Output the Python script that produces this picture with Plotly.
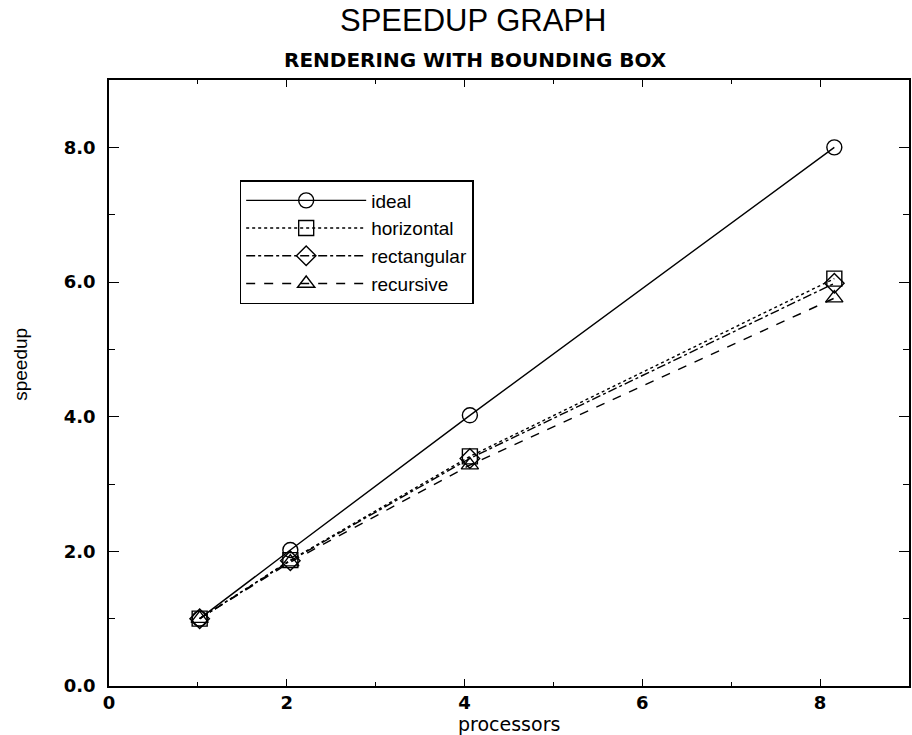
import plotly.graph_objects as go

# Data
processors = [1.02, 2.04, 4.06, 8.16]
ideal = [1.0, 2.02, 4.02, 8.0]
horizontal = [1.0, 1.87, 3.41, 6.05]
rectangular = [1.0, 1.86, 3.38, 5.98]
recursive = [1.0, 1.84, 3.28, 5.76]

x_ticks = [0, 2, 4, 6, 8]
x_tick_labels = ["0", "2", "4", "6", "8"]
y_ticks = [0, 2, 4, 6, 8]
y_tick_labels = ["0.0", "2.0", "4.0", "6.0", "8.0"]

series = [
    ("ideal", ideal, "solid", "circle-open"),
    ("horizontal", horizontal, "dot", "square-open"),
    ("rectangular", rectangular, "dashdot", "diamond-open"),
    ("recursive", recursive, "dash", "triangle-up-open"),
]

fig = go.Figure()
for name, vals, dash, sym in series:
    fig.add_trace(go.Scatter(
        x=processors, y=vals, name=name, mode="lines+markers",
        line=dict(color="black", width=1.4, dash=dash),
        marker=dict(symbol=sym, size=15, color="black",
                    line=dict(color="black", width=1.4)),
    ))

axis_common = dict(
    showgrid=False, zeroline=False, showline=True, linecolor="black",
    linewidth=1.5, mirror="allticks", ticks="inside", tickcolor="black",
    tickfont=dict(family="DejaVu Sans", size=18, color="black", weight="bold"),
)

fig.update_xaxes(
    range=[0, 9], tickvals=x_ticks, ticktext=x_tick_labels, ticklen=7,
    minor=dict(ticks="inside", dtick=1, ticklen=4, tickcolor="black"),
    **axis_common,
)
fig.update_yaxes(
    range=[0, 9], tickvals=y_ticks, ticktext=y_tick_labels, ticklen=10,
    minor=dict(ticks="inside", dtick=1, ticklen=6, tickcolor="black"),
    ticklabelstandoff=8,
    **axis_common,
)

fig.add_annotation(
    text="processors", xref="paper", yref="paper", x=0.5, y=0.0,
    yshift=-38, showarrow=False, xanchor="center", yanchor="middle",
    font=dict(family="DejaVu Sans", size=19, color="black"),
)
fig.add_annotation(
    text="speedup", xref="paper", yref="paper", x=-0.11, y=0.53,
    textangle=-90, showarrow=False, xanchor="center", yanchor="middle",
    font=dict(family="Liberation Sans Narrow, Liberation Sans", size=19, color="black"),
)
fig.add_annotation(
    text="SPEEDUP GRAPH", xref="paper", yref="paper", x=(474 - 109) / 802, y=1.0,
    yshift=60, showarrow=False, xanchor="center", yanchor="middle",
    font=dict(family="Liberation Sans", size=31, color="black"),
)
fig.add_annotation(
    text="RENDERING WITH BOUNDING BOX", xref="paper", yref="paper",
    x=(476 - 109) / 802, y=1.0, yshift=20, showarrow=False,
    xanchor="center", yanchor="middle",
    font=dict(family="DejaVu Sans", size=20, color="black", weight="bold"),
)

fig.update_layout(
    width=912, height=735,
    margin=dict(l=109, r=1, t=80, b=49),
    paper_bgcolor="white", plot_bgcolor="white",
    showlegend=True,
    legend=dict(
        x=(240 - 109) / 802, y=(686 - 180) / 606, xanchor="left", yanchor="top",
        bordercolor="black", borderwidth=1.5, bgcolor="white",
        font=dict(family="Liberation Sans", size=19, color="black"),
        tracegroupgap=0, itemwidth=120,
    ),
)

fig.write_html("out.html")
